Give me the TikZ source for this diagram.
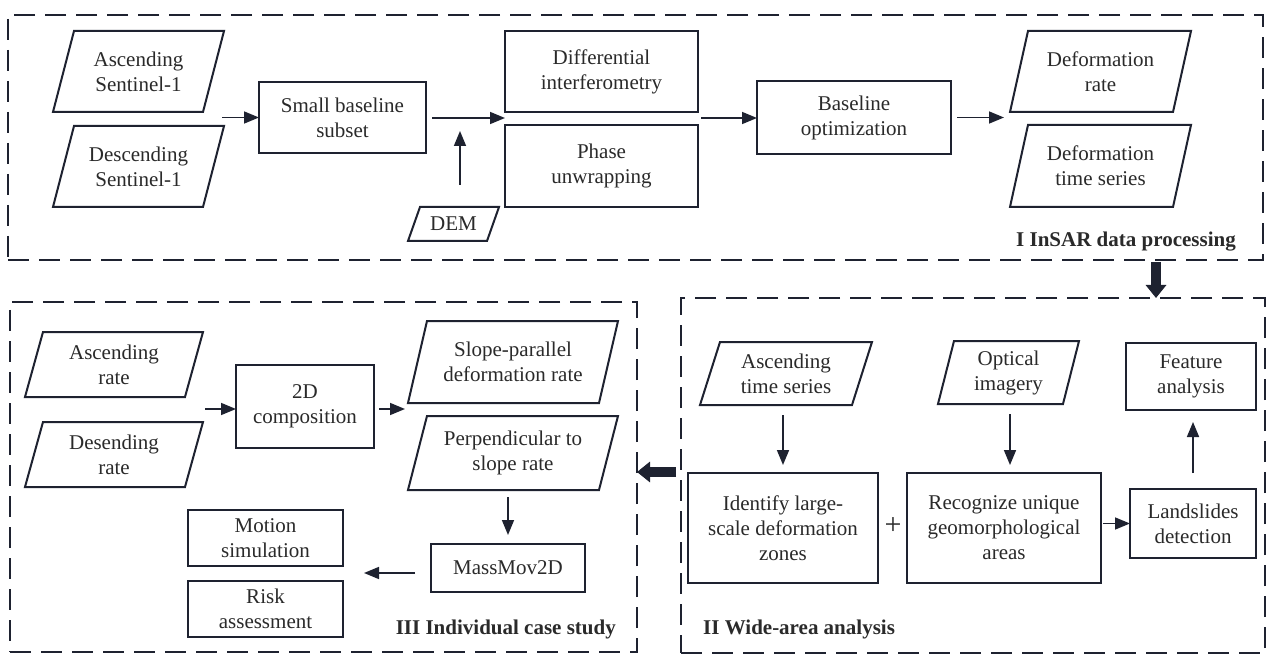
\documentclass[tikz,border=0pt]{standalone}
\usepackage{fontspec}
\setmainfont{Liberation Serif}
\usetikzlibrary{arrows.meta,calc}
\definecolor{ink}{HTML}{1E2230}
\definecolor{txt}{HTML}{2A2A2A}
\tikzset{
 base/.style={inner sep=0pt, outer sep=0pt, align=center, text=txt, font=\fontsize{21}{25}\selectfont},
 box/.style={base, draw=ink, line width=2pt},
 para/.style={base},
 pline/.style={draw=ink, line width=2pt, line join=miter},
 frame/.style={draw=ink, line width=2pt, dash pattern=on 21pt off 10pt, inner sep=0pt, outer sep=0pt},
 arr/.style={draw=ink, line width=1.6pt, -{Triangle[length=15pt,width=12pt]}},
 bigarr/.style={draw=ink, line width=10pt, -{Triangle[length=13pt,width=20pt]}},
 lbl/.style={inner sep=0pt, text=txt, font=\fontsize{21}{25}\selectfont\bfseries},
 plus/.style={inner sep=0pt, text=txt, font=\fontsize{30}{30}\selectfont},
}
\newcommand{\paradraw}[2]{\draw[pline] ($(#1.north west)+(#2,0)$) -- (#1.north east) -- ($(#1.south east)-(#2,0)$) -- (#1.south west) -- cycle;}
\begin{document}
\begin{tikzpicture}[x=1pt,y=-1pt]
\useasboundingbox (0,0) rectangle (1267,655);
\fill[white] (0,0) rectangle (1267,655);
% frames
\node[frame, minimum width=1255, minimum height=245] (fI) at (635.5,137.5) {};
\node[frame, minimum width=584, minimum height=355] (fII) at (973,475.5) {};
\node[frame, minimum width=627, minimum height=350] (fIII) at (323.5,477) {};
% ---------- I ----------
\node[para, minimum width=171, minimum height=81] (asc1) at (138.5,71.5) {Ascending\\Sentinel-1};
\paradraw{asc1}{21}
\node[para, minimum width=171, minimum height=81] (desc1) at (138.5,166.5) {Descending\\Sentinel-1};
\paradraw{desc1}{21}
\node[box, minimum width=167, minimum height=71] (sbs) at (342.5,117.5) {Small baseline\\subset};
\node[box, minimum width=193, minimum height=81] (diff) at (601.5,71.5) {Differential\\interferometry};
\node[box, minimum width=193, minimum height=82] (phase) at (601.5,166) {Phase\\unwrapping};
\node[para, minimum width=91, minimum height=34] (dem) at (453.5,224) {DEM};
\paradraw{dem}{12}
\node[box, minimum width=194, minimum height=73] (bopt) at (854,117.5) {Baseline\\optimization};
\node[para, minimum width=181, minimum height=81] (drate) at (1100.5,71.5) {Deformation\\rate};
\paradraw{drate}{18}
\node[para, minimum width=181, minimum height=82] (dts) at (1100.5,166) {Deformation\\time series};
\paradraw{dts}{18}
\node[lbl, anchor=east] (lI) at (1236,242) {I InSAR data processing};
\coordinate (c1) at (222,117.5);
\coordinate (c2) at (505,118);
\coordinate (c3) at (698,118);
\coordinate (c4) at (1004,117.5);
\coordinate (d1) at (460,185);
\coordinate (d2) at (460,131);
\draw[arr] (c1) -- (sbs.west);
\draw[arr, shorten <=6pt] (sbs.east |- c2) -- (c2);
\draw[arr, shorten <=3pt] (c3) -- (bopt.west |- c3);
\draw[arr, shorten <=6pt] (bopt.east |- c4) -- (c4);
\draw[arr] (d1) -- (d2);
% ---------- big arrows ----------
\coordinate (bx) at (1156,0);
\draw[bigarr, shorten <=2pt] (fI.south -| bx) -- (fII.north -| bx);
\coordinate (by) at (0,472);
\draw[bigarr, shorten <=5pt] (fII.west |- by) -- (fIII.east |- by);
% ---------- II ----------
\node[para, minimum width=172, minimum height=63] (ats) at (786,373.5) {Ascending\\time series};
\paradraw{ats}{20}
\node[para, minimum width=141, minimum height=63] (opt) at (1008.5,372.5) {Optical\\imagery};
\paradraw{opt}{16}
\node[box, minimum width=130, minimum height=67] (feat) at (1191,376.5) {Feature\\analysis};
\node[box, minimum width=190, minimum height=110] (ident) at (783,528) {Identify large-\\scale deformation\\zones};
\node[box, minimum width=194, minimum height=110] (recog) at (1004,528) {Recognize unique\\geomorphological\\areas};
\node[box, minimum width=126, minimum height=69] (lands) at (1193,523.5) {Landslides\\detection};
\node[plus] (pl) at (893,526) {+};
\node[lbl, anchor=west] (lII) at (703,629) {II Wide-area analysis};
\coordinate (ox) at (1010,0);
\draw[arr, shorten <=10pt, shorten >=8pt] (ident.north |- ats.south) -- (ident.north);
\draw[arr, shorten <=10pt, shorten >=8pt] (opt.south -| ox) -- (recog.north -| ox);
\draw[arr, shorten <=2pt] (lands.west -| recog.east) -- (lands.west);
\draw[arr, shorten <=16pt, shorten >=12pt] (lands.north) -- (feat.south -| lands.north);
% ---------- III ----------
\node[para, minimum width=178, minimum height=65] (ascr) at (114,364.5) {Ascending\\rate};
\paradraw{ascr}{18}
\node[para, minimum width=178, minimum height=65] (descr) at (114,454.5) {Desending\\rate};
\paradraw{descr}{18}
\node[box, minimum width=138, minimum height=83] (comp) at (305,406) {2D\\composition};
\node[para, minimum width=210, minimum height=82] (slopep) at (513,362) {Slope-parallel\\deformation rate};
\paradraw{slopep}{19}
\node[para, minimum width=210, minimum height=74] (perp) at (513,453) {Perpendicular to\\slope rate};
\paradraw{perp}{19}
\node[box, minimum width=154, minimum height=48] (mass) at (508,568) {MassMov2D};
\node[box, minimum width=155, minimum height=56] (motion) at (265.5,538) {Motion\\simulation};
\node[box, minimum width=155, minimum height=56] (risk) at (265.5,609) {Risk\\assessment};
\node[lbl, anchor=east] (lIII) at (616,629) {III Individual case study};
\coordinate (c5) at (205,409);
\coordinate (c6) at (405,409);
\coordinate (c7) at (364,573);
\draw[arr] (c5) -- (c5 -| comp.west);
\draw[arr, shorten <=5pt] (comp.east |- c6) -- (c6);
\draw[arr, shorten <=7pt, shorten >=9pt] (mass.north |- perp.south) -- (mass.north);
\draw[arr, shorten <=16pt] (mass.west |- c7) -- (c7);
\end{tikzpicture}
\end{document}
